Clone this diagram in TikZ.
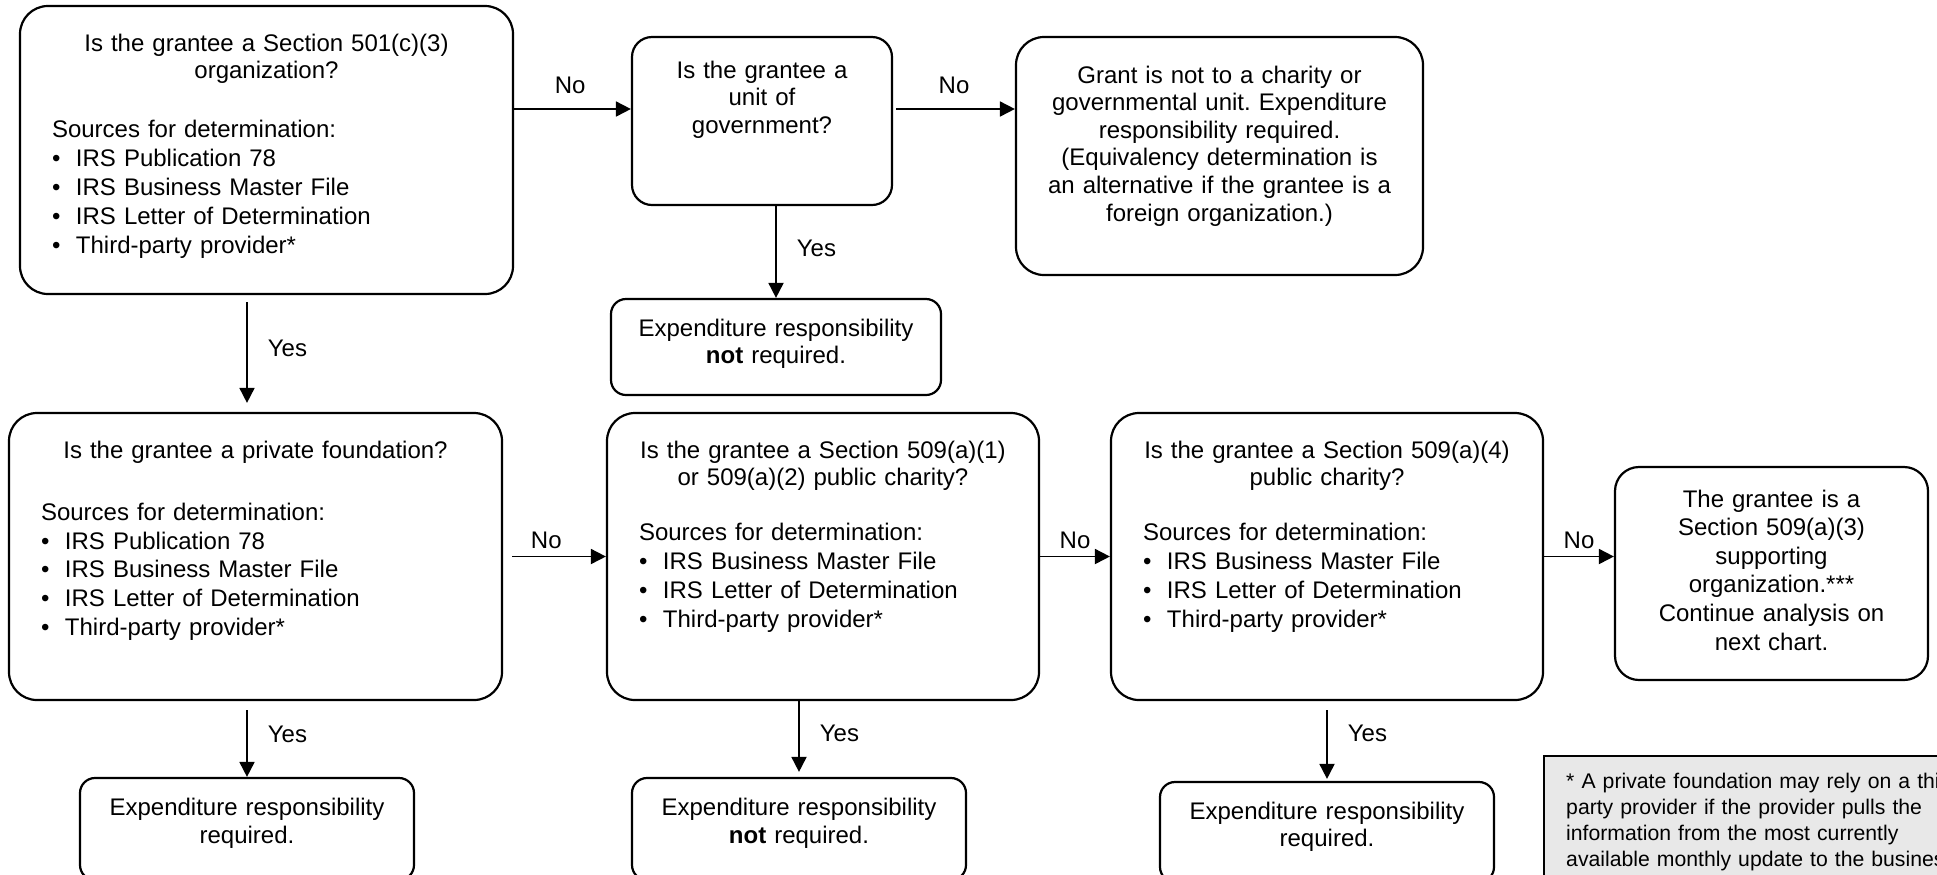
\documentclass[tikz,border=0pt]{standalone}
\usepackage{fontspec}
\setmainfont{Liberation Sans}
\usetikzlibrary{arrows.meta,positioning,calc}
\tikzset{arr/.style={line width=0.9pt,-{Triangle[length=7.5pt,width=7.5pt]}}}
\newcommand{\bul}{\makebox[12pt][l]{\textbullet}}
\frenchspacing

\begin{document}
\begin{tikzpicture}[x=0.5pt,y=-0.5pt,font=\fontsize{12pt}{13.8pt}\selectfont]

\tikzset{bigbox/.style={draw,line width=1.1pt,rounded corners=14pt,inner sep=0pt},
midbox/.style={draw,line width=1.1pt,rounded corners=10pt,inner sep=0pt},
smallbox/.style={draw,line width=1.1pt,rounded corners=7.5pt,inner sep=0pt},
qtxt/.style={inner sep=0pt,align=left},
ctxt/.style={inner sep=0pt,align=center},
lbl/.style={inner sep=0pt},
notebox/.style={draw,line width=1.2pt,fill=black!9,anchor=north west,inner xsep=11pt,inner ysep=8.6pt,text width=230pt,align=left,font=\fontsize{10.6pt}{13pt}\selectfont}}

\useasboundingbox (0,0) rectangle (1937,874);

% Top row
\node[bigbox,minimum width=246.5pt,minimum height=144pt] (q501) at (266.5,150) {};
\node[qtxt,text width=214.5pt,below=14.2pt of q501.north] (q501t) {{\centering Is the grantee a Section 501(c)(3)\\organization?\par}\vspace{15.8pt}Sources for determination:\\[0.6pt]\bul IRS Publication 78\\[0.6pt]\bul IRS Business Master File\\[0.6pt]\bul IRS Letter of Determination\\[0.6pt]\bul Third-party provider*};

\node[midbox,minimum width=130pt,minimum height=84pt] (qgov) at (762,121) {};
\node[ctxt,text width=120pt,below=12.2pt of qgov.north] (qgovt) {Is the grantee a\\unit of\\government?};

\node[bigbox,minimum width=203.5pt,minimum height=119pt] (notchar) at (1219.5,156) {};
\node[ctxt,text width=190pt,below=14.7pt of notchar.north] (notchart) {Grant is not to a charity or\\governmental unit. Expenditure\\responsibility required.\\(Equivalency determination is\\an alternative if the grantee is a\\foreign organization.)};

\node[smallbox,minimum width=165pt,minimum height=48pt] (ergov) at (776,347) {};
\node[ctxt,text width=150pt,below=10.2pt of ergov.north] (ergovt) {Expenditure responsibility\\\textbf{not} required.};

% Middle row
\node[bigbox,minimum width=246.5pt,minimum height=143.5pt] (qpf) at (255.5,556.5) {};
\node[qtxt,text width=214.5pt,below=14.2pt of qpf.north] (qpft) {{\centering Is the grantee a private foundation?\par}\vspace{17.3pt}Sources for determination:\\[0.6pt]\bul IRS Publication 78\\[0.6pt]\bul IRS Business Master File\\[0.6pt]\bul IRS Letter of Determination\\[0.6pt]\bul Third-party provider*};

\node[bigbox,minimum width=216pt,minimum height=143.5pt] (q509a) at (823,556.5) {};
\node[qtxt,text width=184pt,below=14.2pt of q509a.north] (q509at) {{\centering Is the grantee a Section 509(a)(1)\\or 509(a)(2) public charity?\par}\vspace{13.8pt}Sources for determination:\\[0.6pt]\bul IRS Business Master File\\[0.6pt]\bul IRS Letter of Determination\\[0.6pt]\bul Third-party provider*};

\node[bigbox,minimum width=216pt,minimum height=143.5pt] (q509b) at (1327,556.5) {};
\node[qtxt,text width=184pt,below=14.2pt of q509b.north] (q509bt) {{\centering Is the grantee a Section 509(a)(4)\\public charity?\par}\vspace{13.8pt}Sources for determination:\\[0.6pt]\bul IRS Business Master File\\[0.6pt]\bul IRS Letter of Determination\\[0.6pt]\bul Third-party provider*};

\node[midbox,rounded corners=12pt,minimum width=156.5pt,minimum height=106.5pt] (supp) at (1771.5,573.5) {};
\node[ctxt,text width=140pt,below=11.7pt of supp.north,font=\fontsize{12pt}{14.3pt}\selectfont] (suppt) {The grantee is a\\Section 509(a)(3)\\supporting\\organization.***\\Continue analysis on\\next chart.};

% Bottom row
\node[smallbox,minimum width=167pt,minimum height=51pt] (erpf) at (247,829) {};
\node[ctxt,text width=150pt,below=10.5pt of erpf.north] (erpft) {Expenditure responsibility\\required.};

\node[smallbox,minimum width=167pt,minimum height=51pt] (er509a) at (799,829) {};
\node[ctxt,text width=150pt,below=10.5pt of er509a.north] (er509at) {Expenditure responsibility\\\textbf{not} required.};

\node[smallbox,minimum width=167pt,minimum height=50pt] (er509b) at (1327,832) {};
\node[ctxt,text width=150pt,below=10.2pt of er509b.north] (er509bt) {Expenditure responsibility\\required.};

% Footnote
\node[notebox] (fnote) at (1543,755) {* A private foundation may rely on a third-\\party provider if the provider pulls the\\information from the most currently\\available monthly update to the business\\master file, and the private foundation};

% Connectors
\coordinate (row1) at (0,109);
\draw[arr] (q501.east |- row1) -- (qgov.west |- row1) node[lbl,pos=.48,above=7.2pt] {No};
\draw[arr,shorten <=1.5pt] (qgov.east |- row1) -- (notchar.west |- row1) node[lbl,midway,above=7.2pt] {No};
\draw[arr] (qgov.south -| ergov.north) -- (ergov.north) node[lbl,pos=.46,right=10pt] {Yes};
\draw[arr,shorten <=3.5pt,shorten >=4.5pt] (q501.south -| erpf.north) -- (qpf.north -| erpf.north) node[lbl,pos=.46,right=10pt] {Yes};

\draw[arr,shorten <=4.5pt] (qpf) -- (q509a) node[lbl,pos=.42,above=3.2pt] {No};
\draw[arr] (q509a) -- (q509b) node[lbl,midway,above=3.2pt] {No};
\draw[arr] (q509b.east) -- (q509b.east -| supp.west) node[lbl,midway,above=3.2pt] {No};

\draw[arr,shorten <=4.5pt] (qpf.south -| erpf.north) -- (erpf.north) node[lbl,pos=.44,right=10pt] {Yes};
\draw[arr,shorten >=2.5pt] (q509a.south -| er509a.north) -- (er509a.north) node[lbl,pos=.42,right=10pt] {Yes};
\draw[arr,shorten <=4.5pt,shorten >=1pt] (q509b.south -| er509b.north) -- (er509b.north) node[lbl,pos=.41,right=10pt] {Yes};

\end{tikzpicture}
\end{document}
